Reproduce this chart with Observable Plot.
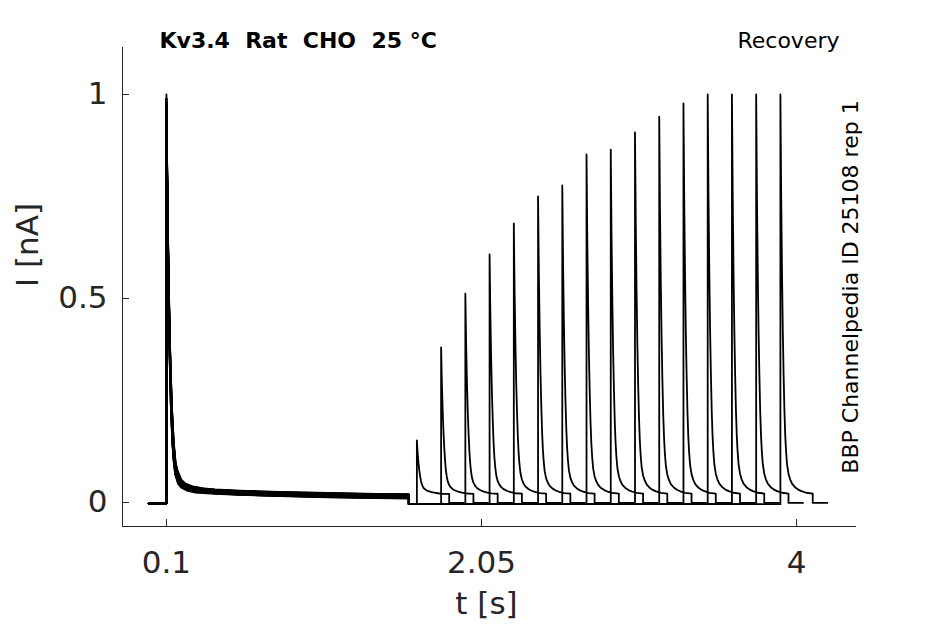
<!DOCTYPE html>
<html><head><meta charset="utf-8">
<script src="https://cdn.jsdelivr.net/npm/d3@7"></script>
<script src="https://cdn.jsdelivr.net/npm/@observablehq/plot@0.6"></script>
<style>
html,body{margin:0;padding:0;background:#fff;}
#chart svg{display:block;}
</style>
</head><body><div id="chart"></div>
<script>
// ---- data ----
const titleText = "Kv3.4\u00a0\u00a0Rat\u00a0\u00a0CHO\u00a0\u00a025\u00a0°C";
const protocolText = "Recovery";
const sourceText = "BBP Channelpedia ID 25108 rep 1";
const xLabel = "t [s]";
const yLabel = "I [nA]";

const xTicks = [0.1, 2.05, 4];
const xTickLabels = ["0.1", "2.05", "4"];
const yTicks = [0, 0.5, 1];
const yTickLabels = ["0", "0.5", "1"];
const xDomain = [-0.172, 4.371];
const yDomain = [-0.0588, 1.1152];

// protocol times (s)
const holdStart = -0.01;
const condStart = 0.1;
const condEnd = 1.6;
const testDuration = 0.2;
const sweepTail = 0.29;

// levels (nA)
const holdLevel = -0.002;
const gapLevel = -0.004;
const afterLevel = -0.001;

// one entry per sweep (16 sweeps)
const testStart = [1.65, 1.80, 1.95, 2.10, 2.25, 2.40, 2.55, 2.70, 2.85, 3.00, 3.15, 3.30, 3.45, 3.60, 3.75, 3.90];
const testPeak  = [0.152, 0.38, 0.512, 0.608, 0.684, 0.75, 0.777, 0.853, 0.865, 0.907, 0.946, 0.978, 1.0, 1.0, 1.0, 1.0];
const condPeak  = [1.0, 0.95, 0.98, 0.97, 0.99, 0.96, 0.98, 0.97, 0.99, 0.96, 0.98, 0.97, 0.99, 0.98, 0.97, 0.96];
const condStretch = [1.0, 1.12, 0.92, 1.05, 0.96, 1.15, 0.9, 1.08, 1.02, 0.94, 1.1, 0.98, 1.06, 0.93, 1.13, 1.0];
const condShift = [0.0, 0.005, -0.004, 0.003, -0.002, 0.006, -0.005, 0.002, 0.004, -0.003, 0.005, 0.001, -0.002, 0.003, -0.004, 0.002];

// conditioning-pulse decay profile (time after onset, current for peak 1)
const condDecayT = [0, 0.005, 0.01, 0.015, 0.02, 0.025, 0.03, 0.04, 0.05, 0.06, 0.08, 0.1, 0.14, 0.2, 0.3, 0.45, 0.7, 1.0, 1.3, 1.5];
const condDecayI = [1, 0.8, 0.63, 0.5, 0.39, 0.31, 0.24, 0.15, 0.1, 0.075, 0.052, 0.043, 0.035, 0.03, 0.027, 0.024, 0.021, 0.018, 0.016, 0.015];

// test-pulse decay profile (time after onset, fraction of peak, steady tail)
const testDecayT = [0, 0.005, 0.01, 0.015, 0.02, 0.025, 0.03, 0.035, 0.041, 0.05, 0.06, 0.072, 0.09, 0.11, 0.13, 0.16, 0.2];
const testDecayF = [1, 0.74, 0.55, 0.4, 0.29, 0.2, 0.14, 0.1, 0.068, 0.045, 0.032, 0.022, 0.014, 0.009, 0.006, 0.003, 0.001];
const testTail   = [0.032, 0.032, 0.031, 0.031, 0.03, 0.03, 0.029, 0.029, 0.028, 0.027, 0.026, 0.025, 0.024, 0.023, 0.022, 0.021, 0.021];

// ---- build traces ----
const rows = [];
testStart.forEach((ts, k) => {
  const push = (t, i) => rows.push({sweep: k, t, i});
  push(holdStart, holdLevel);
  push(condStart, holdLevel);
  condDecayT.forEach((dt, j) => {
    const tt = condStart + (dt <= 0.2 ? dt * condStretch[k] : dt);
    const v = j === 0 ? condPeak[k] : condDecayI[j] * condPeak[k] + (j > 8 ? condShift[k] : 0);
    push(tt, v);
  });
  push(condEnd, gapLevel);
  push(ts, gapLevel);
  const p = testPeak[k];
  testDecayT.forEach((dt, j) => {
    push(ts + dt, testTail[j] + (p - testTail[0]) * testDecayF[j]);
  });
  push(ts + testDuration, afterLevel);
  push(ts + sweepTail, afterLevel);
});

const axisColor = "#262626";
const chart = Plot.plot({
  width: 945,
  height: 624,
  marginLeft: 122,
  marginRight: 89,
  marginTop: 47,
  marginBottom: 98,
  x: {domain: xDomain},
  y: {domain: yDomain},
  style: {fontFamily: "'DejaVu Sans', sans-serif", color: axisColor, background: "#fff", overflow: "visible"},
  marks: [
    Plot.ruleX([xDomain[0]], {stroke: axisColor, strokeWidth: 1}),
    Plot.ruleY([yDomain[0]], {stroke: axisColor, strokeWidth: 1}),
    Plot.axisX(xTicks, {anchor: "bottom", tickSize: -7, tickPadding: 31, fontSize: 31, label: null,
      tickFormat: d => xTickLabels[xTicks.indexOf(d)]}),
    Plot.axisY(yTicks, {anchor: "left", tickSize: -7, tickPadding: 22, fontSize: 31, label: null,
      tickFormat: d => yTickLabels[yTicks.indexOf(d)]}),
    Plot.line(rows, {x: "t", y: "i", z: "sweep", stroke: "black", strokeWidth: 1.8, curve: "linear"}),
    Plot.text([xLabel], {text: d => d, frameAnchor: "bottom", dx: -3, dy: 87, lineAnchor: "bottom", fontSize: 31, fill: axisColor}),
    Plot.text([yLabel], {text: d => d, frameAnchor: "left", dx: -85, rotate: -90, lineAnchor: "bottom", fontSize: 31, fill: axisColor}),
    Plot.text([titleText], {text: d => d, frameAnchor: "top-left", dx: 37, dy: 0, lineAnchor: "bottom", textAnchor: "start", fontSize: 22, fontWeight: "bold", fill: "black"}),
    Plot.text([protocolText], {text: d => d, frameAnchor: "top-right", dx: -17, dy: 0, lineAnchor: "bottom", textAnchor: "end", fontSize: 22, fill: "black"}),
    Plot.text([sourceText], {text: d => d, frameAnchor: "right", dx: 1, rotate: -90, lineAnchor: "bottom", textAnchor: "middle", fontSize: 22, fill: "black"})
  ]
});
document.getElementById("chart").appendChild(chart);
</script>
</body></html>
